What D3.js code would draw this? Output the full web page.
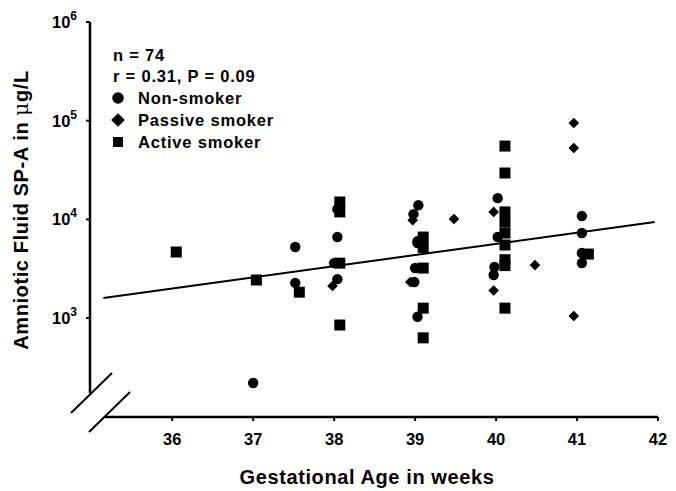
<!DOCTYPE html>
<html lang="en">
<head>
    <meta charset="UTF-8">
    <title>Amniotic Fluid SP-A vs Gestational Age</title>
    <script src="https://d3js.org/d3.v7.min.js"></script>
    <style>
        body { margin: 0; background: #fff; }
        text { font-family: "Liberation Sans", Arial, sans-serif; font-weight: bold; fill: #000; }
    </style>
</head>
<body>
    <div id="chart"></div>

    <script>
        // Data (x = gestational week, y = SP-A in µg/L)
        const nonSmokerWeeks = [37.0, 37.52, 37.52, 38.04, 38.04, 38.0, 38.04, 39.04, 38.98, 39.03, 39.0, 38.99, 39.03, 39.03,
                                40.02, 40.02, 39.98, 39.97, 41.06, 41.06, 41.06, 41.06];
        const nonSmokerValues = [220, 5250, 2270, 12700, 6620, 3600, 2480, 13900, 11300, 5760, 3210, 2320, 1030, 6000,
                                 16400, 6620, 3290, 2730, 10800, 7270, 4560, 3610];

        const passiveWeeks = [37.98, 38.97, 38.94, 39.48, 39.97, 39.97, 40.48, 40.96, 40.96, 40.96];
        const passiveValues = [2110, 9800, 2320, 10100, 11900, 1900, 3440, 94700, 52800, 1050];

        const activeWeeks = [36.05, 37.04, 37.57, 38.07, 38.07, 38.07, 38.07, 39.1, 39.1, 39.1, 39.1, 39.1,
                             40.11, 40.11, 40.11, 40.11, 40.11, 40.11, 40.11, 40.11, 40.11, 41.14];
        const activeValues = [4670, 2430, 1830, 15000, 11900, 3600, 850, 6620, 5200, 3210, 1260, 630,
                              55300, 29500, 11900, 9400, 7270, 5500, 3900, 3400, 1260, 4450];

        // regression line end points (week, µg/L)
        const fitWeeks = [35.15, 41.96];
        const fitValues = [1600, 9400];

        const xTicks = [36, 37, 38, 39, 40, 41, 42];
        const yTicks = [3, 4, 5, 6]; // exponents of 10

        const legendStats = ["n = 74", "r = 0.31, P = 0.09"];
        const legendItems = ["Non-smoker", "Passive smoker", "Active smoker"];

        const width = 676, height = 491;
        const svg = d3.select("#chart")
                      .append("svg")
                      .attr("width", width)
                      .attr("height", height);

        const x = d3.scaleLinear().domain([35.17, 42]).range([105, 658]);
        const y = d3.scaleLog().domain([174, 1e6]).range([393, 22]);

        // symbols
        const circleSym = d3.symbol().type(d3.symbolCircle).size(85);
        const squareSym = d3.symbol().type(d3.symbolSquare).size(121);
        const diamondSym = d3.symbol().type(d3.symbolDiamond2).size(72);

        // x axis
        const xAxisY = 417;
        svg.append("line")
           .attr("x1", x.range()[0]).attr("x2", x.range()[1])
           .attr("y1", xAxisY).attr("y2", xAxisY)
           .attr("stroke", "#000").attr("stroke-width", 2.5);
        const xg = svg.append("g");
        xg.selectAll("line").data(xTicks).join("line")
          .attr("x1", d => x(d)).attr("x2", d => x(d))
          .attr("y1", xAxisY).attr("y2", xAxisY + 4)
          .attr("stroke", "#000").attr("stroke-width", 2);
        xg.selectAll("text").data(xTicks).join("text")
          .attr("x", d => x(d)).attr("y", xAxisY + 28)
          .attr("text-anchor", "middle")
          .attr("font-size", "16.5px")
          .text(d => d);

        // y axis
        const yAxisX = 90;
        svg.append("line")
           .attr("x1", yAxisX).attr("x2", yAxisX)
           .attr("y1", y.range()[0]).attr("y2", y.range()[1])
           .attr("stroke", "#000").attr("stroke-width", 2.5);
        const yg = svg.append("g");
        yg.selectAll("line").data(yTicks).join("line")
          .attr("x1", yAxisX - 4).attr("x2", yAxisX)
          .attr("y1", d => y(Math.pow(10, d))).attr("y2", d => y(Math.pow(10, d)))
          .attr("stroke", "#000").attr("stroke-width", 2);
        const yLabels = yg.selectAll("text").data(yTicks).join("text")
          .attr("x", yAxisX - 38).attr("y", d => y(Math.pow(10, d)) + 6)
          .attr("font-size", "16.5px");
        yLabels.append("tspan").text("10");
        yLabels.append("tspan").attr("dy", -8).attr("font-size", "12px").text(d => d);

        // axis break marks
        const brk = svg.append("g").attr("stroke", "#000").attr("stroke-width", 2);
        brk.append("line").attr("x1", 71).attr("y1", 413).attr("x2", 112).attr("y2", 373);
        brk.append("line").attr("x1", 89).attr("y1", 432).attr("x2", 130).attr("y2", 392);

        // axis titles
        svg.append("text")
           .attr("x", 367).attr("y", 484)
           .attr("text-anchor", "middle")
           .attr("font-size", "20px")
           .attr("letter-spacing", "0.6px")
           .text("Gestational Age in weeks");
        const yt = svg.append("text")
           .attr("transform", "translate(28,210) rotate(-90)")
           .attr("text-anchor", "middle")
           .attr("font-size", "20px")
           .attr("letter-spacing", "0.6px");
        yt.append("tspan").text("Amniotic Fluid SP-A in ");
        yt.append("tspan").attr("font-weight", "normal").attr("font-family", "DejaVu Serif").text("\u03bc");
        yt.append("tspan").text("g/L");

        // regression line
        svg.append("line")
           .attr("x1", x(fitWeeks[0])).attr("y1", y(fitValues[0]))
           .attr("x2", x(fitWeeks[1])).attr("y2", y(fitValues[1]))
           .attr("stroke", "#000").attr("stroke-width", 2);

        // points
        function drawSeries(weeks, values, sym) {
            svg.append("g").selectAll("path")
               .data(weeks.map((w, i) => [w, values[i]]))
               .join("path")
               .attr("d", sym)
               .attr("transform", d => `translate(${x(d[0])},${y(d[1])})`)
               .attr("fill", "#000");
        }
        drawSeries(nonSmokerWeeks, nonSmokerValues, circleSym);
        drawSeries(passiveWeeks, passiveValues, diamondSym);
        drawSeries(activeWeeks, activeValues, squareSym);

        // legend
        const leg = svg.append("g").attr("font-size", "16.5px").attr("letter-spacing", "0.8px");
        legendStats.forEach((s, i) => {
            leg.append("text").attr("x", 113).attr("y", 61 + i * 21).text(s);
        });
        const legSyms = [
            d3.symbol().type(d3.symbolCircle).size(105),
            d3.symbol().type(d3.symbolDiamond2).size(120),
            d3.symbol().type(d3.symbolSquare).size(100)
        ];
        legendItems.forEach((s, i) => {
            const cy = 98 + i * 22;
            leg.append("path").attr("d", legSyms[i]).attr("transform", `translate(118,${cy})`).attr("fill", "#000");
            leg.append("text").attr("x", 138).attr("y", cy + 6).text(s);
        });
    </script>
</body>
</html>
